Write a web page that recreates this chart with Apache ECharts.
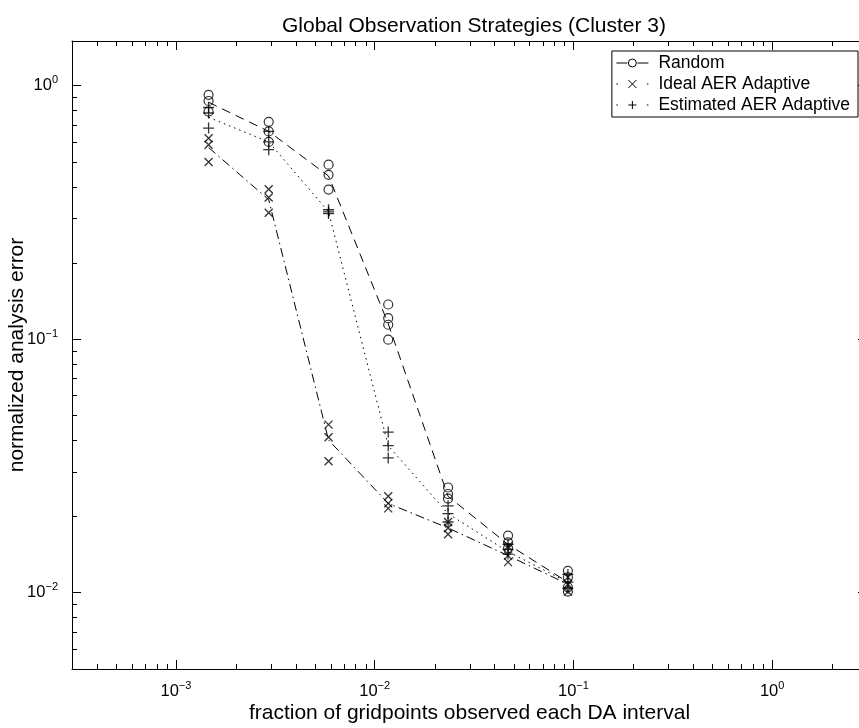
<!DOCTYPE html>
<html>
<head>
<meta charset="utf-8">
<title>Global Observation Strategies (Cluster 3)</title>
<script src="https://cdn.jsdelivr.net/npm/echarts@6/dist/echarts.min.js"></script>
<style>
  html, body { margin: 0; padding: 0; background: #fff; }
  #chart { width: 859px; height: 728px; }
</style>
</head>
<body>
<div id="chart"></div>
<script>
// fraction of gridpoints observed (one cluster of trials per value)
const fractions = [0.00146, 0.00293, 0.00586, 0.0117, 0.0234, 0.0469, 0.0938];

// individual trials
const randomTrials = [
  [0.92, 0.87, 0.79],
  [0.72, 0.66, 0.60],
  [0.488, 0.445, 0.389],
  [0.137, 0.121, 0.114, 0.0995],
  [0.026, 0.0245, 0.0235],
  [0.0168, 0.0158, 0.015],
  [0.0122, 0.0115, 0.0105, 0.0101]
];
const idealTrials = [
  [0.62, 0.585, 0.50],
  [0.39, 0.362, 0.315],
  [0.046, 0.041, 0.033],
  [0.024, 0.0225, 0.0215],
  [0.019, 0.018, 0.017],
  [0.0152, 0.014, 0.0132],
  [0.0115, 0.0108, 0.0101]
];
const estimatedTrials = [
  [0.82, 0.78, 0.68],
  [0.66, 0.60, 0.559],
  [0.324, 0.318, 0.313],
  [0.043, 0.038, 0.034],
  [0.022, 0.0205, 0.019],
  [0.0155, 0.0148, 0.0142],
  [0.0118, 0.011, 0.0104]
];

// connecting curves (cluster centres)
const randomLine = [0.86, 0.66, 0.44, 0.115, 0.024, 0.0155, 0.011];
const idealLine = [0.57, 0.355, 0.040, 0.0225, 0.018, 0.014, 0.0108];
const estimatedLine = [0.75, 0.60, 0.318, 0.038, 0.0205, 0.0145, 0.011];

const xMin = 3e-4, xMax = 3;
const yMin = 5e-3, yMax = 1.5;

const FONT = 'Liberation Sans, Arial, Helvetica, sans-serif';

function toPoints(trials) {
  const pts = [];
  trials.forEach((vals, i) => vals.forEach(v => pts.push([fractions[i], v])));
  return pts;
}

// minor tick positions (2..9 in each decade)
function minorTicks(lo, hi) {
  const out = [];
  for (let d = -5; d <= 1; d++) {
    for (let k = 2; k <= 9; k++) {
      const v = k * Math.pow(10, d);
      if (v > lo * 1.001 && v < hi * 0.999) out.push(v);
    }
  }
  return out;
}
const xMinor = minorTicks(xMin, xMax);
const yMinor = minorTicks(yMin, yMax);

function powLabel(v) {
  const lg = Math.log10(v);
  const e = Math.round(lg);
  if (Math.abs(lg - e) > 1e-6) return '';
  return '{b|10}{e|' + (e < 0 ? '\u2212' + (-e) : e) + '}';
}
const labelRich = {
  b: { fontSize: 16.5, fontFamily: FONT, color: '#000', lineHeight: 22 },
  e: { fontSize: 11, fontFamily: FONT, color: '#000', lineHeight: 9, verticalAlign: 'top' }
};

const tickStyle = { show: true, inside: true, length: 9, lineStyle: { color: '#000', width: 1 } };
const lineAxis = { show: true, lineStyle: { color: '#000', width: 1 } };

const dom = document.getElementById('chart');
const myChart = echarts.init(dom, null, { renderer: 'canvas' });

const option = {
  animation: false,
  backgroundColor: '#fff',
  title: {
    text: 'Global Observation Strategies (Cluster 3)',
    left: 469,
    textAlign: 'center',
    top: 11,
    textStyle: { fontFamily: FONT, fontSize: 21, fontWeight: 'normal', color: '#000' }
  },
  grid: { left: 72, right: -8, top: 41, bottom: 59, containLabel: false, outerBoundsMode: 'none' },
  legend: {
    orient: 'vertical',
    right: 1,
    top: 51,
    padding: [3, 8, 3, 4],
    itemGap: 3,
    itemWidth: 42,
    itemHeight: 8,
    backgroundColor: '#fff',
    borderColor: '#000',
    borderWidth: 1,
    borderRadius: 0,
    selectedMode: false,
    itemStyle: { color: 'rgba(0,0,0,0)', borderColor: '#000', borderWidth: 1 },
    textStyle: { fontFamily: FONT, fontSize: 17.5, color: '#000' },
    data: [
      { name: 'Random', icon: 'path://M0,4L11,4M21,4L32,4M20,4A4,4,0,1,1,12,4A4,4,0,1,1,20,4' },
      { name: 'Ideal AER Adaptive', icon: 'path://M0,4L1.5,4M30.5,4L32,4M12,0L20,8M20,0L12,8' },
      { name: 'Estimated AER Adaptive', icon: 'path://M0,4L1.5,4M30.5,4L32,4M16,0L16,8M12,4L20,4' }
    ]
  },
  xAxis: [
    {
      type: 'log', logBase: 10, min: xMin, max: xMax, position: 'bottom',
      name: 'fraction of gridpoints observed each DA interval',
      nameLocation: 'middle', nameGap: 34, nameMoveOverlap: false,
      nameTextStyle: { fontFamily: FONT, fontSize: 21, color: '#000' },
      axisLine: lineAxis, axisTick: tickStyle, splitLine: { show: false }, minorTick: { show: false },
      axisLabel: { margin: 11, formatter: powLabel, rich: labelRich }
    },
    {
      type: 'log', logBase: 10, min: xMin, max: xMax, position: 'top',
      axisLine: lineAxis, axisTick: tickStyle, splitLine: { show: false },
      axisLabel: { show: false }
    }
  ],
  yAxis: [
    {
      type: 'log', logBase: 10, min: yMin, max: yMax, position: 'left',
      name: 'normalized analysis error',
      nameLocation: 'middle', nameGap: 44, nameMoveOverlap: false,
      nameTextStyle: { fontFamily: FONT, fontSize: 21, color: '#000' },
      axisLine: lineAxis, axisTick: tickStyle, splitLine: { show: false },
      axisLabel: { margin: 14, formatter: powLabel, rich: labelRich }
    },
    {
      type: 'log', logBase: 10, min: yMin, max: yMax, position: 'right',
      axisLine: lineAxis, axisTick: tickStyle, splitLine: { show: false },
      axisLabel: { show: false }
    }
  ],
  series: [
    {
      name: 'Random', type: 'line', symbol: 'none', silent: true,
      data: fractions.map((f, i) => [f, randomLine[i]]),
      lineStyle: { color: '#000', width: 1, type: [9, 6] }
    },
    {
      name: 'Ideal AER Adaptive', type: 'line', symbol: 'none', silent: true,
      data: fractions.map((f, i) => [f, idealLine[i]]),
      lineStyle: { color: '#000', width: 1, type: [9, 4, 1.5, 4] }
    },
    {
      name: 'Estimated AER Adaptive', type: 'line', symbol: 'none', silent: true,
      data: fractions.map((f, i) => [f, estimatedLine[i]]),
      lineStyle: { color: '#000', width: 1, type: [1.5, 4] }
    },
    {
      name: 'Random', type: 'scatter', silent: true,
      symbol: 'circle', symbolSize: 9,
      itemStyle: { color: 'rgba(0,0,0,0)', borderColor: '#000', borderWidth: 1.2 },
      data: toPoints(randomTrials)
    },
    {
      name: 'Ideal AER Adaptive', type: 'scatter', silent: true,
      symbol: 'path://M0,0L10,10M10,0L0,10', symbolSize: 8,
      itemStyle: { color: 'rgba(0,0,0,0)', borderColor: '#000', borderWidth: 1.3 },
      data: toPoints(idealTrials)
    },
    {
      name: 'Estimated AER Adaptive', type: 'scatter', silent: true,
      symbol: 'path://M5,0L5,10M0,5L10,5', symbolSize: 11,
      itemStyle: { color: 'rgba(0,0,0,0)', borderColor: '#000', borderWidth: 1.3 },
      data: toPoints(estimatedTrials)
    },
    {
      // minor ticks on bottom and top edges
      type: 'custom', silent: true,
      data: xMinor.map(v => [v, yMin]),
      renderItem: function (params, api) {
        const v = api.value(0);
        const b = api.coord([v, yMin]);
        const t = api.coord([v, yMax]);
        const x = Math.round(b[0]) + 0.5;
        const st = { stroke: '#000', lineWidth: 1 };
        return { type: 'group', children: [
          { type: 'line', shape: { x1: x, y1: b[1], x2: x, y2: b[1] - 5 }, style: st },
          { type: 'line', shape: { x1: x, y1: t[1], x2: x, y2: t[1] + 5 }, style: st }
        ] };
      }
    },
    {
      // minor ticks on left and right edges
      type: 'custom', silent: true,
      data: yMinor.map(v => [xMin, v]),
      renderItem: function (params, api) {
        const v = api.value(1);
        const l = api.coord([xMin, v]);
        const r = api.coord([xMax, v]);
        const y = Math.round(l[1]) + 0.5;
        const st = { stroke: '#000', lineWidth: 1 };
        return { type: 'group', children: [
          { type: 'line', shape: { x1: l[0], y1: y, x2: l[0] + 5, y2: y }, style: st },
          { type: 'line', shape: { x1: r[0], y1: y, x2: r[0] - 5, y2: y }, style: st }
        ] };
      }
    }
  ]
};

myChart.setOption(option, true);
</script>
</body>
</html>
